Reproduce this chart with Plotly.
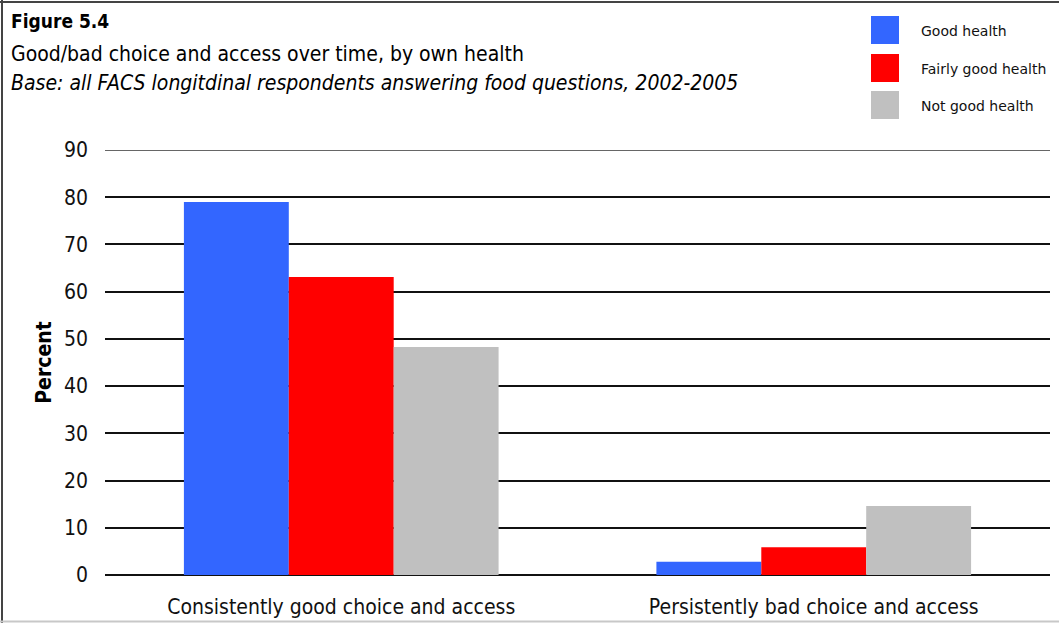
import plotly.graph_objects as go

# Data
categories = ["Consistently good choice and access", "Persistently bad choice and access"]
series_names = ["Good health", "Fairly good health", "Not good health"]
good_health = [79.0, 2.8]
fairly_good_health = [63.1, 5.9]
not_good_health = [48.3, 14.6]
colors = ["#3366FF", "#FF0000", "#C0C0C0"]
y_ticks = [0, 10, 20, 30, 40, 50, 60, 70, 80, 90]

W, H = 1059, 623
ML, MR, MT, MB = 105, 9, 150, 48
PW, PH = W - ML - MR, H - MT - MB


def px(x):
    return (x - ML) / PW


def py(y):
    return 1 - (y - MT) / PH


FONT = "DejaVu Sans Condensed, DejaVu Sans, sans-serif"

fig = go.Figure()
for name, vals, col in zip(series_names, [good_health, fairly_good_health, not_good_health], colors):
    fig.add_trace(go.Bar(x=categories, y=vals, name=name, marker=dict(color=col, line=dict(width=0)),
                         showlegend=False))

fig.update_layout(
    width=W, height=H,
    margin=dict(l=ML, r=MR, t=MT, b=MB),
    paper_bgcolor="white", plot_bgcolor="white",
    barmode="group", bargap=0.334, bargroupgap=0,
    font=dict(family=FONT, color="#000000"),
    xaxis=dict(showgrid=False, showline=False, ticks="", tickfont=dict(size=21, color="#111"),
               ticklabelstandoff=17, automargin=False),
    yaxis=dict(range=[0, 90], tickvals=y_ticks, showgrid=True, gridcolor="#111", gridwidth=1.5,
               zeroline=True, zerolinecolor="#111", zerolinewidth=1.5, showline=False, ticks="",
               tickfont=dict(size=21, color="#111"), ticklabelstandoff=16, automargin=False,
               title=dict(text="<b>Percent</b>", font=dict(size=21, color="#000"), standoff=6)),
)

# Frame and the top gridline at 90
shapes = [
    dict(type="line", xref="paper", yref="y", x0=0, x1=1, y0=90, y1=90,
         line=dict(color="#333", width=1.5)),
    dict(type="line", xref="paper", yref="paper", x0=px(2), x1=px(2), y0=py(0), y1=py(H),
         line=dict(color="#444", width=2)),
    dict(type="line", xref="paper", yref="paper", x0=px(0), x1=px(W), y0=py(2), y1=py(2),
         line=dict(color="#444", width=2)),
    dict(type="line", xref="paper", yref="paper", x0=px(0), x1=px(W), y0=py(621.5), y1=py(621.5),
         line=dict(color="#C8C8C8", width=2)),
]

# Legend swatches
legend_y = [30, 68, 105]
for name, col, yc in zip(series_names, colors, legend_y):
    shapes.append(dict(type="rect", xref="paper", yref="paper", x0=px(871), x1=px(899),
                       y0=py(yc - 14), y1=py(yc + 14), fillcolor=col, line=dict(width=0)))

annotations = [
    dict(text="<b>Figure 5.4</b>", x=px(9), y=py(21), xref="paper", yref="paper", xanchor="left",
         yanchor="middle", showarrow=False, font=dict(size=19, family=FONT)),
    dict(text="Good/bad choice and access over time, by own health", x=px(9), y=py(54), xref="paper",
         yref="paper", xanchor="left", yanchor="middle", showarrow=False, font=dict(size=21, family=FONT)),
    dict(text="<i>Base: all FACS longitdinal respondents answering food questions, 2002-2005</i>", x=px(9),
         y=py(83), xref="paper", yref="paper", xanchor="left", yanchor="middle", showarrow=False,
         font=dict(size=21, family=FONT)),
]
for name, yc in zip(series_names, legend_y):
    annotations.append(dict(text=name, x=px(919), y=py(yc + 1), xref="paper", yref="paper", xanchor="left",
                            yanchor="middle", showarrow=False,
                            font=dict(size=14, family="DejaVu Sans, sans-serif", color="#111")))

fig.update_layout(shapes=shapes, annotations=annotations)
fig.write_html("out.html")
